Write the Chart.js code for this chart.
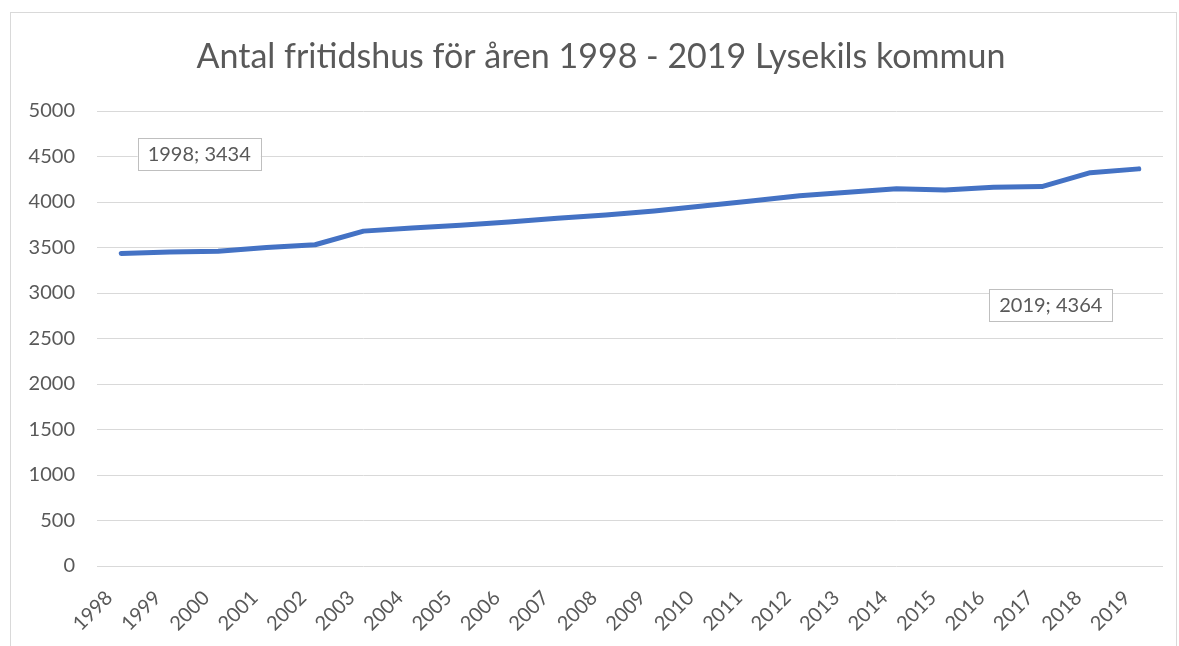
<!DOCTYPE html>
<html>
<head>
<meta charset="utf-8">
<script src="https://cdn.jsdelivr.net/npm/chart.js@4"></script>
<style>
  body { margin: 0; background: #fff; }
  #frame { position: absolute; left: 10px; top: 12px; width: 1165px; height: 640px; border: 1px solid #d9d9d9; }
  #wrap { position: absolute; left: 0; top: 0; width: 1179px; height: 646px; }
</style>
</head>
<body>
<div id="frame"></div>
<div id="wrap"><canvas id="fritidsChart"></canvas></div>
<script>
var years = ['1998', '1999', '2000', '2001', '2002', '2003', '2004', '2005', '2006', '2007', '2008',
             '2009', '2010', '2011', '2012', '2013', '2014', '2015', '2016', '2017', '2018', '2019'];
var fritidshus = [3434, 3450, 3460, 3500, 3530, 3680, 3715, 3745, 3780, 3822, 3857,
                  3902, 3956, 4011, 4068, 4108, 4145, 4132, 4163, 4170, 4322, 4364];
var yTicks = [0, 500, 1000, 1500, 2000, 2500, 3000, 3500, 4000, 4500, 5000];
var titleText = 'Antal fritidshus för åren 1998 - 2019 Lysekils kommun';

var textColor = '#595959';
var fontName = 'Lato, "Open Sans", sans-serif';

// title drawn by hand so it can sit centred on the frame, not on the padded area
var titlePlugin = {
    id: 'frameTitle',
    afterDraw: function (chart) {
        var ctx = chart.ctx;
        ctx.save();
        ctx.font = '34px ' + fontName;
        ctx.fillStyle = textColor;
        ctx.textAlign = 'center';
        ctx.textBaseline = 'middle';
        ctx.fillText(titleText, 601, 57);
        ctx.restore();
    }
};

// data labels for first and last point (Excel style boxes)
var labelPlugin = {
    id: 'endLabels',
    afterDatasetsDraw: function (chart) {
        var ctx = chart.ctx;
        var meta = chart.getDatasetMeta(0);
        var last = years.length - 1;
        var items = [
            { i: 0, dx: 78, dy: -100 },
            { i: last, dx: -88, dy: 136 }
        ];
        ctx.save();
        ctx.font = '20px ' + fontName;
        ctx.textAlign = 'center';
        ctx.textBaseline = 'middle';
        items.forEach(function (it) {
            var pt = meta.data[it.i];
            var txt = years[it.i] + '; ' + fritidshus[it.i];
            var cx = pt.x + it.dx;
            var cy = pt.y + it.dy;
            var w = ctx.measureText(txt).width + 20;
            var h = 32;
            ctx.fillStyle = '#ffffff';
            ctx.fillRect(cx - w / 2, cy - h / 2, w, h);
            ctx.strokeStyle = '#bfbfbf';
            ctx.lineWidth = 1;
            ctx.strokeRect(Math.round(cx - w / 2) + 0.5, Math.round(cy - h / 2) + 0.5, Math.round(w), h);
            ctx.fillStyle = textColor;
            ctx.fillText(txt, cx, cy + 1);
        });
        ctx.restore();
    }
};

var ctx = document.getElementById('fritidsChart').getContext('2d');
var chart = new Chart(ctx, {
    type: 'line',
    data: {
        labels: years,
        datasets: [{
            label: 'Antal fritidshus',
            data: fritidshus,
            borderColor: '#4472C4',
            backgroundColor: '#4472C4',
            borderWidth: 5,
            borderCapStyle: 'round',
            borderJoinStyle: 'round',
            pointRadius: 0,
            tension: 0,
            fill: false
        }]
    },
    options: {
        responsive: true,
        maintainAspectRatio: false,
        animation: false,
        layout: { padding: { left: 20, right: 16, top: 111, bottom: 0 } },
        plugins: {
            legend: { display: false },
            tooltip: { enabled: false },
            title: { display: false }
        },
        scales: {
            x: {
                offset: true,
                grid: { display: false, drawTicks: false },
                border: { display: false },
                ticks: {
                    color: textColor,
                    font: { family: fontName, size: 20 },
                    maxRotation: 45,
                    minRotation: 45,
                    autoSkip: false,
                    padding: 20,
                    labelOffset: -12
                },
                afterFit: function (axis) { axis.height = 80; }
            },
            y: {
                min: 0,
                max: 5000,
                afterBuildTicks: function (axis) {
                    axis.ticks = yTicks.map(function (v) { return { value: v }; });
                },
                grid: { color: '#d9d9d9', lineWidth: 1, drawTicks: false },
                border: { display: false },
                ticks: {
                    color: textColor,
                    font: { family: fontName, size: 20 },
                    padding: 22,
                    callback: function (v) { return String(v); }
                },
                afterFit: function (axis) { axis.width = 77; }
            }
        }
    },
    plugins: [labelPlugin, titlePlugin]
});
</script>
</body>
</html>
